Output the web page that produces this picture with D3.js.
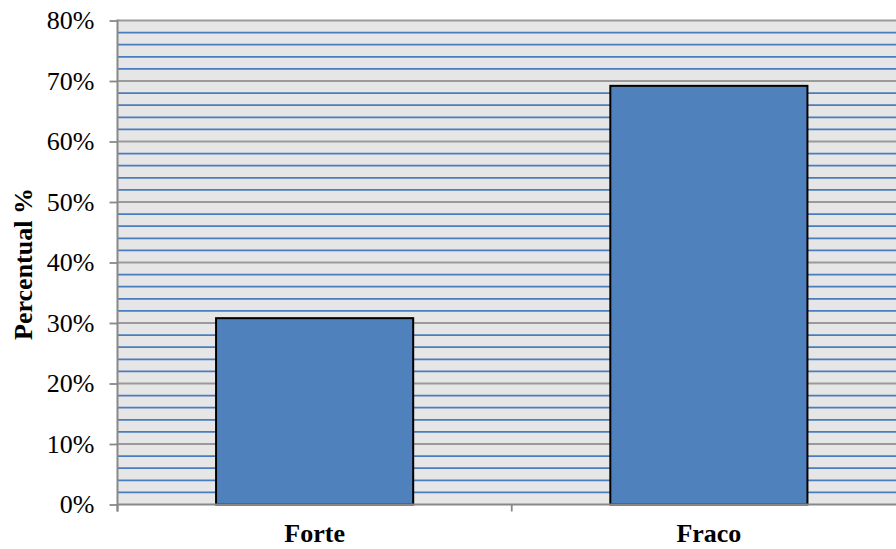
<!DOCTYPE html>
<html>
<head>
<meta charset="utf-8">
<script src="https://cdn.jsdelivr.net/npm/d3@7"></script>
<style>
  html, body { margin: 0; padding: 0; background: #ffffff; }
  svg { display: block; }
</style>
</head>
<body>
<svg id="chart" width="896" height="549"></svg>
<script>
// Categories and their share (%)
const categories = ["Forte", "Fraco"];
const values = [30.8, 69.2];
const yTicks = [0, 10, 20, 30, 40, 50, 60, 70, 80];
const minorTicks = d3.range(2, 80, 2).filter(v => v % 10 !== 0);
const yTitle = "Percentual %";

const svg = d3.select("#chart");
const plotLeft = 117.5, plotRight = 906, plotTop = 20.5, plotBottom = 504.5;

const x = d3.scaleBand().domain(categories).range([plotLeft, plotRight]).paddingInner(0).paddingOuter(0);
const y = d3.scaleLinear().domain([0, 80]).range([plotBottom, plotTop]);

const font = "'Liberation Serif', 'Times New Roman', serif";

// plot background
svg.append("rect")
  .attr("x", plotLeft).attr("y", plotTop)
  .attr("width", plotRight - plotLeft).attr("height", plotBottom - plotTop)
  .attr("fill", "#e6e6e6");

// minor gridlines
svg.append("g").selectAll("line").data(minorTicks).join("line")
  .attr("x1", plotLeft).attr("x2", plotRight)
  .attr("y1", d => y(d)).attr("y2", d => y(d))
  .attr("stroke", "#4a7dbd").attr("stroke-width", 1.7);

// major gridlines
svg.append("g").selectAll("line").data(yTicks.filter(d => d > 0)).join("line")
  .attr("x1", plotLeft).attr("x2", plotRight)
  .attr("y1", d => y(d)).attr("y2", d => y(d))
  .attr("stroke", "#9a9a9a").attr("stroke-width", 1.8);

// bars
svg.append("g").selectAll("rect").data(values).join("rect")
  .attr("x", (d, i) => x(categories[i]) + x.bandwidth() / 4)
  .attr("width", x.bandwidth() / 2)
  .attr("y", d => y(d))
  .attr("height", d => y(0) - y(d))
  .attr("fill", "#4f81bd")
  .attr("stroke", "#000000")
  .attr("stroke-width", 2);

// y axis
const yAxis = d3.axisLeft(y).tickValues(yTicks).tickFormat(d => d + "%").tickSize(8).tickPadding(15);
const gy = svg.append("g").attr("transform", `translate(${plotLeft},0)`).call(yAxis);
gy.select(".domain").remove();
gy.selectAll(".tick line").attr("stroke", "#888").attr("stroke-width", 1.8);
gy.selectAll(".tick text")
  .attr("font-family", font).attr("font-size", 26).attr("fill", "#000");
gy.append("line")
  .attr("x1", 0).attr("x2", 0).attr("y1", plotTop - 1).attr("y2", plotBottom + 7)
  .attr("stroke", "#888").attr("stroke-width", 2);

// x axis
const xAxis = d3.axisBottom(x).tickSize(0).tickPadding(19);
const gx = svg.append("g").attr("transform", `translate(0,${plotBottom})`).call(xAxis);
gx.select(".domain").remove();
gx.selectAll(".tick text")
  .attr("font-family", font).attr("font-size", 26).attr("font-weight", "bold").attr("fill", "#000");
gx.append("line")
  .attr("x1", plotLeft).attr("x2", plotRight).attr("y1", 0).attr("y2", 0)
  .attr("stroke", "#888").attr("stroke-width", 2);
// category boundary ticks
gx.append("g").selectAll("line").data(categories).join("line")
  .attr("x1", d => x(d)).attr("x2", d => x(d))
  .attr("y1", 0).attr("y2", 7)
  .attr("stroke", "#888").attr("stroke-width", 1.8);

// y axis title
svg.append("text")
  .attr("transform", `translate(32,${264}) rotate(-90)`)
  .attr("text-anchor", "middle")
  .attr("font-family", font).attr("font-size", 26).attr("font-weight", "bold")
  .text(yTitle);
</script>
</body>
</html>
